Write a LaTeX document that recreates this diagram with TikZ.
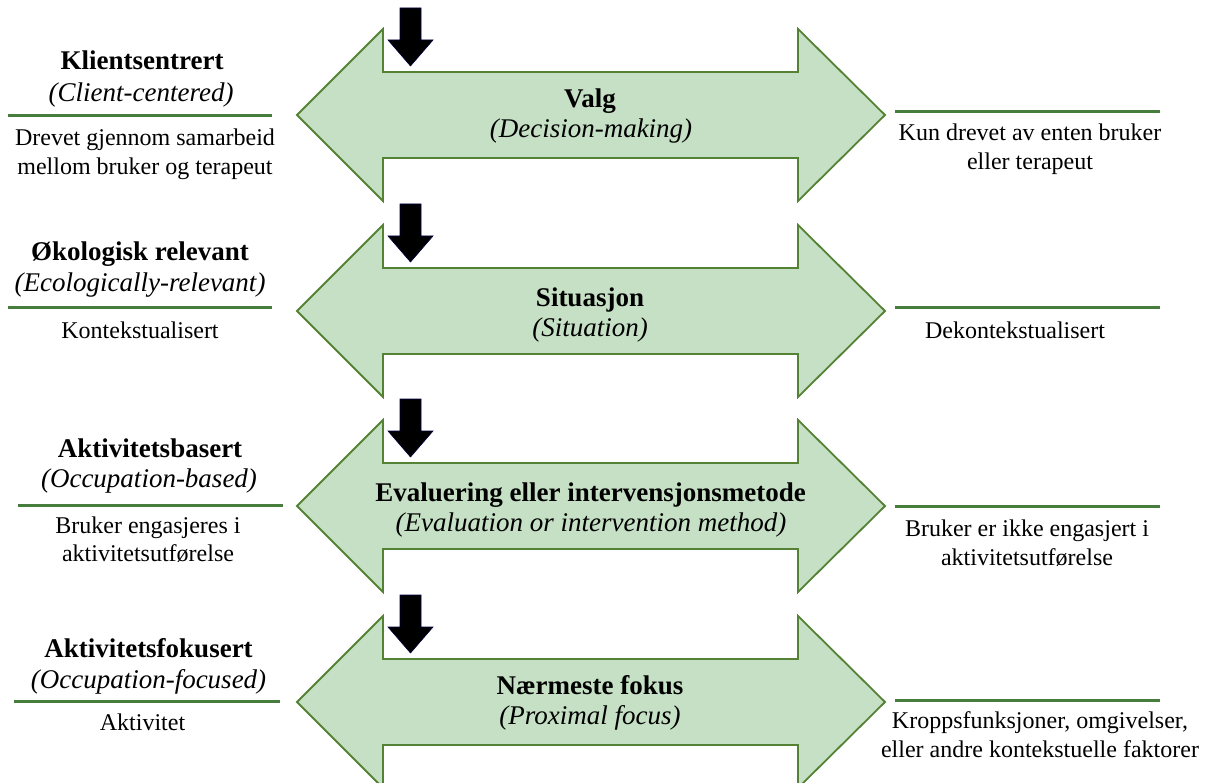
\documentclass[tikz,border=0pt]{standalone}
\usepackage{fontspec}
\setmainfont{Liberation Serif}
\definecolor{arrowfill}{RGB}{197,224,196}
\definecolor{arrowline}{RGB}{84,130,53}
\definecolor{sepgreen}{RGB}{70,125,60}
\begin{document}
\begin{tikzpicture}[x=1pt,y=-1pt,
  dbl/.style={fill=arrowfill,draw=arrowline,line width=1.8pt,line join=miter},
  blk/.style={fill=black,draw=black!75!blue,line width=0.6pt},
  sep/.style={draw=sepgreen,line width=3pt},
  tb/.style={font=\fontsize{27}{32}\selectfont\bfseries,anchor=base,inner sep=0pt},
  ti/.style={font=\fontsize{27}{32}\selectfont\itshape,anchor=base,inner sep=0pt},
  tn/.style={font=\fontsize{24}{29}\selectfont,anchor=base,inner sep=0pt}]
\path[use as bounding box] (0,0) rectangle (1209,783);
\clip (0,0) rectangle (1209,783);
\foreach \c in {115,311,506,702} {
  \draw[dbl] (297,\c) -- (383,{\c-86}) -- (383,{\c-43}) -- (798,{\c-43}) -- (798,{\c-86})
    -- (885,\c) -- (798,{\c+86}) -- (798,{\c+43}) -- (383,{\c+43}) -- (383,{\c+86}) -- cycle;
  \filldraw[blk] (400,{\c-107}) -- (421,{\c-107}) -- (421,{\c-75}) -- (433,{\c-75})
    -- (410.5,{\c-49}) -- (388,{\c-75}) -- (400,{\c-75}) -- cycle;
}
% separator lines
\coordinate (la1) at (8,116);   \coordinate (lb1) at (272,116);
\coordinate (la2) at (8,308);   \coordinate (lb2) at (272,308);
\coordinate (la3) at (18,505);  \coordinate (lb3) at (283,505);
\coordinate (la4) at (14,701);  \coordinate (lb4) at (280,701);
\coordinate (ra1) at (895,112); \coordinate (rb1) at (1160,112);
\coordinate (ra2) at (895,308); \coordinate (rb2) at (1160,308);
\coordinate (ra3) at (895,506); \coordinate (rb3) at (1160,506);
\coordinate (ra4) at (895,700); \coordinate (rb4) at (1160,700);
\foreach \i in {1,2,3,4} {
  \draw[sep] (la\i) -- (lb\i);
  \draw[sep] (ra\i) -- (rb\i);
}
% left column
\node[tb] (lt1) at (142,70) {Klientsentrert};
\node[ti] (li1) at (141,102) {(Client-centered)};
\node[tn] (ld1a) at (145,146) {Drevet gjennom samarbeid};
\node[tn] (ld1b) at (145,175) {mellom bruker og terapeut};
\node[tb] (lt2) at (140,261) {Økologisk relevant};
\node[ti] (li2) at (140,292) {(Ecologically-relevant)};
\node[tn] (ld2) at (140,338) {Kontekstualisert};
\node[tb] (lt3) at (150,457) {Aktivitetsbasert};
\node[ti] (li3) at (149,487) {(Occupation-based)};
\node[tn] (ld3a) at (148,533) {Bruker engasjeres i};
\node[tn] (ld3b) at (148,561) {aktivitetsutførelse};
\node[tb] (lt4) at (148.5,657) {Aktivitetsfokusert};
\node[ti] (li4) at (148.5,688) {(Occupation-focused)};
\node[tn] (ld4) at (142.5,730) {Aktivitet};
% centre
\node[tb] (ct1) at (590,108) {Valg};
\node[ti] (ci1) at (591,138) {(Decision-making)};
\node[tb] (ct2) at (590,306) {Situasjon};
\node[ti] (ci2) at (590,337) {(Situation)};
\node[tb] (ct3) at (590.5,501) {Evaluering eller intervensjonsmetode};
\node[ti] (ci3) at (591,531) {(Evaluation or intervention method)};
\node[tb] (ct4) at (590,694) {Nærmeste fokus};
\node[ti] (ci4) at (590,724) {(Proximal focus)};
% right column
\node[tn] (rd1a) at (1030,141) {Kun drevet av enten bruker};
\node[tn] (rd1b) at (1030,170) {eller terapeut};
\node[tn] (rd2) at (1015,338) {Dekontekstualisert};
\node[tn] (rd3a) at (1027,536) {Bruker er ikke engasjert i};
\node[tn] (rd3b) at (1027,565) {aktivitetsutførelse};
\node[tn] (rd4a) at (1040,728) {Kroppsfunksjoner, omgivelser,};
\node[tn] (rd4b) at (1040,757) {eller andre kontekstuelle faktorer};
\end{tikzpicture}
\end{document}
